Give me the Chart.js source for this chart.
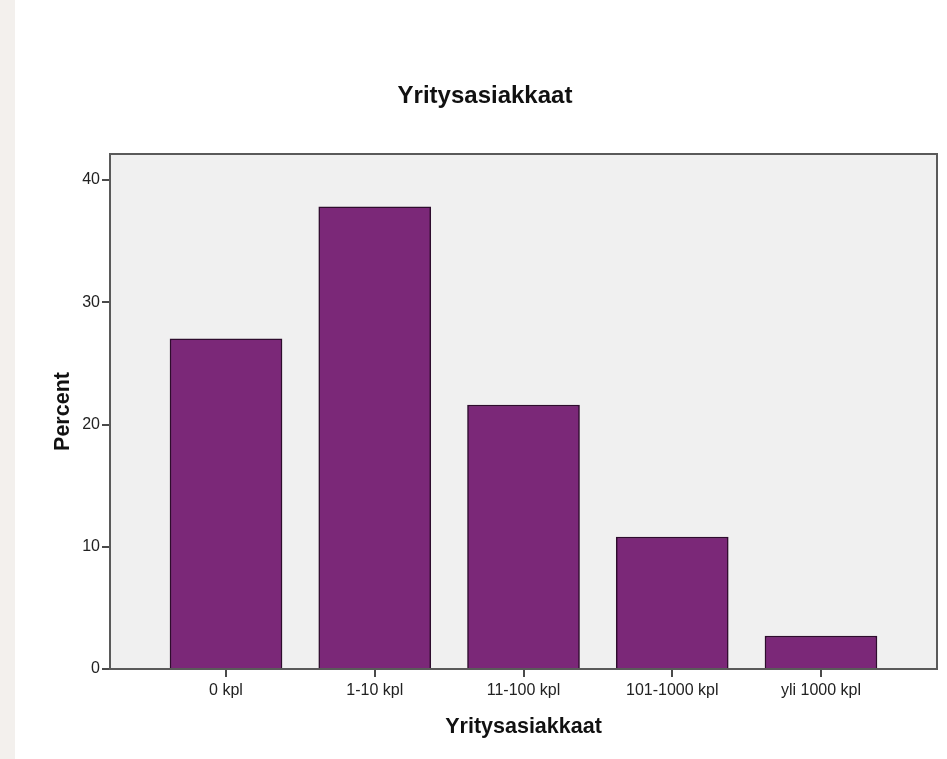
<!DOCTYPE html>
<html>
<head>
<meta charset="utf-8">
<script src="https://cdn.jsdelivr.net/npm/chart.js@4/dist/chart.umd.min.js"></script>
<style>
  html, body { margin: 0; padding: 0; background: #ffffff; }
  #wrap { position: relative; width: 947px; height: 759px; overflow: hidden; }
  #strip { position: absolute; left: 0; top: 0; width: 15px; height: 759px; background: #f3f0ed; }
  #c { position: absolute; left: 0; top: 0; }
</style>
</head>
<body>
<div id="wrap">
  <div id="strip"></div>
  <canvas id="c" width="947" height="759"></canvas>
</div>
<script>
const chartTitle = 'Yritysasiakkaat';
const xTitle = 'Yritysasiakkaat';
const yTitle = 'Percent';
const categories = ['0 kpl', '1-10 kpl', '11-100 kpl', '101-1000 kpl', 'yli 1000 kpl'];
const percentValues = [27.0, 37.8, 21.6, 10.8, 2.7];
const yTickValues = [0, 10, 20, 30, 40];

const FONT = '"Liberation Sans", Arial, sans-serif';

const plotFrame = {
  id: 'plotFrame',
  beforeDatasetsDraw(chart) {
    const { ctx, chartArea: a } = chart;
    ctx.save();
    ctx.fillStyle = '#f0f0f0';
    ctx.fillRect(a.left, a.top, a.right - a.left, a.bottom - a.top);
    ctx.restore();
  },
  afterDatasetsDraw(chart) {
    const { ctx, chartArea: a } = chart;
    ctx.save();
    ctx.strokeStyle = '#5a5a5a';
    ctx.lineWidth = 2;
    ctx.strokeRect(a.left, a.top, a.right - a.left, a.bottom - a.top);
    ctx.restore();
  }
};

new Chart(document.getElementById('c'), {
  type: 'bar',
  data: {
    datasets: [{
      data: percentValues.map((v, i) => ({ x: i, y: v })),
      backgroundColor: '#7b2878',
      borderColor: '#2e0c2d',
      borderWidth: 1.5,
      barThickness: 112
    }]
  },
  options: {
    responsive: false,
    animation: false,
    layout: { padding: { left: 33, right: 10, top: 0, bottom: 0 } },
    plugins: {
      legend: { display: false },
      tooltip: { enabled: false },
      title: {
        display: true,
        text: chartTitle,
        color: '#111111',
        font: { family: FONT, size: 24, weight: 'bold' },
        padding: { top: 81.6, bottom: 43.6 }
      }
    },
    scales: {
      x: {
        type: 'linear',
        offset: false,
        min: -0.78,
        max: 4.78,
        afterBuildTicks(s) { s.ticks = categories.map((_, i) => ({ value: i })); },
        afterFit(s) { s.height = 90; },
        ticks: {
          autoSkip: false,
          maxRotation: 0,
          includeBounds: false,
          padding: 4,
          color: '#222222',
          font: { family: FONT, size: 16 },
          callback: (v) => categories[v] !== undefined ? categories[v] : ''
        },
        grid: { display: true, offset: false, drawOnChartArea: false, drawTicks: true, tickLength: 8, color: '#4a4a4a', lineWidth: 2 },
        border: { display: false },
        title: {
          display: true,
          text: xTitle,
          color: '#111111',
          font: { family: FONT, size: 21.5, weight: 'bold' },
          padding: { top: 0, bottom: 19 }
        }
      },
      y: {
        min: 0,
        max: 42.13,
        afterBuildTicks(s) { s.ticks = yTickValues.map(v => ({ value: v })); },
        afterFit(s) { s.width = 77; },
        ticks: {
          includeBounds: false,
          padding: 2,
          color: '#222222',
          font: { family: FONT, size: 16 }
        },
        grid: { display: true, drawOnChartArea: false, drawTicks: true, tickLength: 8, color: '#4a4a4a', lineWidth: 2 },
        border: { display: false },
        title: {
          display: true,
          text: yTitle,
          color: '#111111',
          font: { family: FONT, size: 21.5, weight: 'bold' },
          padding: { top: 17, bottom: 0 }
        }
      }
    }
  },
  plugins: [plotFrame]
});
</script>
</body>
</html>
